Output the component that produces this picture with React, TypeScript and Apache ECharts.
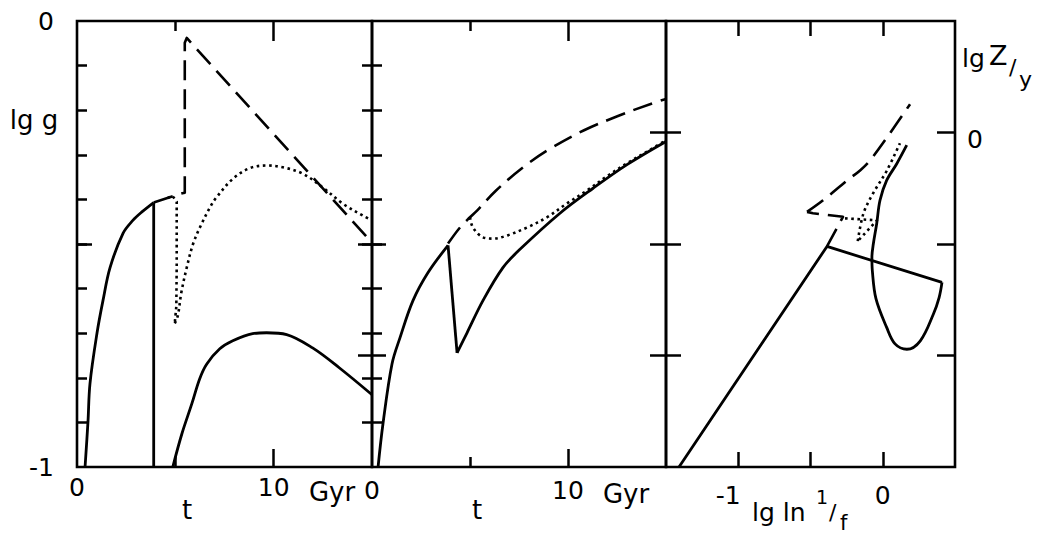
import React, { useEffect, useRef } from "react";
import * as echarts from "echarts";

// ---------- data ----------
// Panel 1: lg g vs t (Gyr)
const p1SolidAT = [0.41, 0.56, 0.66, 1.02, 1.32, 1.68, 2.34, 2.84, 3.3, 3.9, 3.9];
const p1SolidAG = [-1, -0.897, -0.813, -0.699, -0.627, -0.553, -0.476, -0.447, -0.428, -0.407, -1];
const p1SolidBT = [4.87, 5.33, 5.84, 6.24, 6.6, 7.26, 7.92, 8.93, 9.64, 10.66, 11.98, 13.35, 15];
const p1SolidBG = [-1, -0.926, -0.858, -0.802, -0.769, -0.735, -0.717, -0.701, -0.699, -0.703, -0.733, -0.778, -0.838];
const p1DashT = [3.9, 5.3, 5.48, 5.48, 5.58, 15];
const p1DashG = [-0.407, -0.387, -0.385, -0.049, -0.038, -0.497];
const p1DotT = [4.6, 4.85, 5.07, 5.07, 5.05, 4.97, 5.13, 5.3, 5.58, 5.9, 6.3, 6.8, 7.1, 7.92, 8.78, 9.64, 10.46, 11.47, 12.49, 13.5, 14.52, 15];
const p1DotG = [-0.397, -0.392, -0.405, -0.55, -0.64, -0.678, -0.66, -0.61, -0.553, -0.5, -0.458, -0.415, -0.395, -0.354, -0.33, -0.324, -0.328, -0.342, -0.373, -0.409, -0.436, -0.447];

// Panel 2: lg g vs t (Gyr)
const p2SolidT = [0.31, 0.56, 1.02, 1.43, 2.09, 2.86, 3.88, 4.34, 4.85, 5.66, 6.68, 7.55, 9.59, 11.28, 13.01, 15];
const p2SolidG = [-1, -0.903, -0.769, -0.71, -0.627, -0.564, -0.503, -0.744, -0.699, -0.627, -0.553, -0.512, -0.431, -0.375, -0.322, -0.27];
const p2DashT = [3.88, 4.49, 5.0, 5.36, 6.33, 7.65, 9.03, 10.82, 12.55, 14.34, 15];
const p2DashG = [-0.499, -0.463, -0.44, -0.425, -0.38, -0.33, -0.288, -0.245, -0.213, -0.184, -0.175];
const p2DotT = [5.0, 5.15, 5.66, 6.17, 6.89, 7.91, 8.93, 9.95, 10.97, 11.99, 13.01, 14.03, 15];
const p2DotG = [-0.44, -0.463, -0.485, -0.488, -0.481, -0.463, -0.44, -0.409, -0.38, -0.348, -0.319, -0.293, -0.267];

// Panel 3: lg Z/y vs lg ln 1/f
const p3SolidX = [-1.41, -0.386, 0.41, 0.39, 0.35, 0.26, 0.167, 0.085, 0.027, -0.047, -0.072, -0.075, -0.065, -0.042, -0.019, 0.027, 0.097, 0.166];
const p3SolidY = [-1.5, -0.511, -0.672, -0.74, -0.815, -0.934, -0.972, -0.948, -0.874, -0.745, -0.62, -0.559, -0.499, -0.409, -0.304, -0.215, -0.14, -0.057];
const p3DashX = [-0.386, -0.275, -0.483, -0.524, -0.413, -0.247, -0.157, -0.088, 0.05, 0.189];
const p3DashY = [-0.511, -0.378, -0.362, -0.356, -0.304, -0.215, -0.17, -0.125, -0.003, 0.127];
const p3DotX = [-0.261, -0.04, -0.173, -0.134, -0.067, 0.029, 0.119];
const p3DotY = [-0.385, -0.394, -0.487, -0.364, -0.273, -0.17, -0.048];

// ticks / labels
const tMin = 0, tMax = 15;
const gMin = -1, gMax = 0;
const fMin = -1.5, fMax = 0.5;
const zMin = -1.5, zMax = 0.5;
const tShortTicks = [5];
const tLongTicks = [10];
const tLabels = [0, 10];
const gMinorTicks = [-0.9, -0.8, -0.7, -0.6, -0.5, -0.4, -0.3, -0.2, -0.1];
const gLongTicks = [-0.5];
const gCrossTicks = [-0.5, -0.75];
const gLabels = [-1, 0];
const fTicks = [-1, -0.5, 0];
const fLabels = [-1, 0];
const zTicks = [0, -0.5, -1];
const zLabels = [0];

const FONT = "DejaVu Sans";
const BLACK = "#000";

function zip(a: number[], b: number[]) {
  return a.map((v, i) => [v, b[i]]);
}

function axis(grid: number, min: number, max: number, position: string, ticks: number[], len: number, inside = true, labelCfg?: any) {
  return {
    type: "value",
    gridIndex: grid,
    min,
    max,
    position,
    axisLine: { show: false, onZero: false },
    splitLine: { show: false },
    axisTick: { show: true, inside, length: len, customValues: ticks, lineStyle: { color: BLACK, width: 2.5 } },
    axisLabel: labelCfg
      ? { show: true, color: BLACK, fontSize: 25, fontFamily: FONT, ...labelCfg }
      : { show: false },
  };
}

function line(xi: number, yi: number, data: number[][], type: any, smooth: number | boolean = false) {
  return {
    type: "line",
    xAxisIndex: xi,
    yAxisIndex: yi,
    data,
    symbol: "none",
    showSymbol: false,
    silent: true,
    clip: true,
    smooth,
    lineStyle: { color: BLACK, width: type === "solid" ? 2.8 : 2.6, type, cap: "butt", join: "round" },
  };
}

function txt(text: string, x: number, y: number, size = 24, align = "center") {
  return {
    type: "text",
    x,
    y,
    style: { text, fill: BLACK, font: `${size}px "${FONT}"`, align, verticalAlign: "middle" },
  };
}

const DASH = [20, 9];
const DOT = [2.6, 3.6];
const SM = 0.35;

export default function App() {
  const ref = useRef<HTMLDivElement>(null);
  useEffect(() => {
    if (!ref.current) return;
    const chart = echarts.init(ref.current, null, { renderer: "svg" });
    const gridBase = { show: true, borderColor: BLACK, borderWidth: 2.6, top: 21, height: 446, backgroundColor: "transparent" };
    const p1A = zip(p1SolidAT, p1SolidAG);
    const p1D = zip(p1DotT, p1DotG);
    const p2S = zip(p2SolidT, p2SolidG);
    const p2O = zip(p2DotT, p2DotG);
    const p3S = zip(p3SolidX, p3SolidY);
    const p3D = zip(p3DashX, p3DashY);
    const p3O = zip(p3DotX, p3DotY);
    const option: any = {
      animation: false,
      backgroundColor: "#fff",
      grid: [
        { ...gridBase, left: 77, width: 295 },
        { ...gridBase, left: 372, width: 294 },
        { ...gridBase, left: 666, width: 289 },
      ],
      xAxis: [
        axis(0, tMin, tMax, "bottom", tShortTicks, 10, true, { customValues: tLabels, margin: 8 }),
        axis(0, tMin, tMax, "bottom", tLongTicks, 18),
        axis(0, tMin, tMax, "top", tShortTicks, 10),
        axis(0, tMin, tMax, "top", tLongTicks, 20),
        axis(1, tMin, tMax, "bottom", tShortTicks, 10, true, { customValues: tLabels, margin: 11 }),
        axis(1, tMin, tMax, "bottom", tLongTicks, 18),
        axis(1, tMin, tMax, "top", tShortTicks, 10),
        axis(1, tMin, tMax, "top", tLongTicks, 20),
        axis(2, fMin, fMax, "bottom", fTicks, 15, true, {
          customValues: fLabels,
          margin: 16,
          formatter: (v: number) => (v < 0 ? `{m|${v}}` : `{n|${v}}`),
          rich: {
            m: { fontSize: 25, fontFamily: FONT, color: BLACK, padding: [0, 20, 0, 0] },
            n: { fontSize: 25, fontFamily: FONT, color: BLACK },
          },
        }),
        axis(2, fMin, fMax, "top", fTicks, 15),
      ],
      yAxis: [
        axis(0, gMin, gMax, "left", gMinorTicks, 10, true, { customValues: gLabels, margin: 23 }),
        axis(0, gMin, gMax, "left", gLongTicks, 15),
        axis(0, gMin, gMax, "right", gMinorTicks, 10),
        axis(1, gMin, gMax, "left", gMinorTicks, 10),
        axis(1, gMin, gMax, "left", gCrossTicks, 14),
        axis(1, gMin, gMax, "left", gCrossTicks, 14, false),
        axis(2, zMin, zMax, "left", zTicks, 15),
        axis(2, zMin, zMax, "left", zTicks, 16, false),
        axis(2, zMin, zMax, "right", zTicks, 18, true, {
          customValues: zLabels,
          margin: 12,
          formatter: (v: number) => `{z|${v}}`,
          rich: { z: { fontSize: 25, fontFamily: FONT, color: BLACK, padding: [14, 0, 0, 0] } },
        }),
      ],
      series: [
        line(0, 0, p1A.slice(0, 10), "solid", SM),
        line(0, 0, p1A.slice(9), "solid"),
        line(0, 0, zip(p1SolidBT, p1SolidBG), "solid", SM),
        line(0, 0, zip(p1DashT, p1DashG), DASH),
        line(0, 0, p1D.slice(0, 6), DOT),
        line(0, 0, p1D.slice(5), DOT, SM),
        line(4, 3, p2S.slice(0, 7), "solid", SM),
        line(4, 3, p2S.slice(6, 8), "solid"),
        line(4, 3, p2S.slice(7), "solid", SM),
        line(4, 3, zip(p2DashT, p2DashG), DASH, SM),
        line(4, 3, p2O, DOT, SM),
        line(8, 6, p3S.slice(0, 3), "solid"),
        line(8, 6, p3S.slice(2), "solid", SM),
        line(8, 6, p3D.slice(0, 4), DASH),
        line(8, 6, p3D.slice(3), DASH, SM),
        line(8, 6, p3O.slice(0, 3), DOT),
        line(8, 6, p3O.slice(2), DOT, SM),
      ],
      graphic: [
        txt("lg g", 34, 120, 26),
        txt("t", 187, 510, 26),
        txt("Gyr", 332, 492, 26),
        txt("t", 477, 510, 26),
        txt("Gyr", 626, 494, 26),
        txt("lg ln", 752, 512, 25, "left"),
        txt("1", 816, 497, 19, "left"),
        txt("/", 829, 512, 22, "left"),
        txt("f", 840, 523, 21, "left"),
        txt("lg", 962, 58, 25, "left"),
        txt("Z", 989, 55, 27, "left"),
        txt("/", 1009, 67, 22, "left"),
        txt("y", 1019, 79, 22, "left"),
      ],
    };
    chart.setOption(option);
    return () => chart.dispose();
  }, []);
  return <div ref={ref} style={{ position: "absolute", left: 0, top: 0, width: 1041, height: 534 }} />;
}
